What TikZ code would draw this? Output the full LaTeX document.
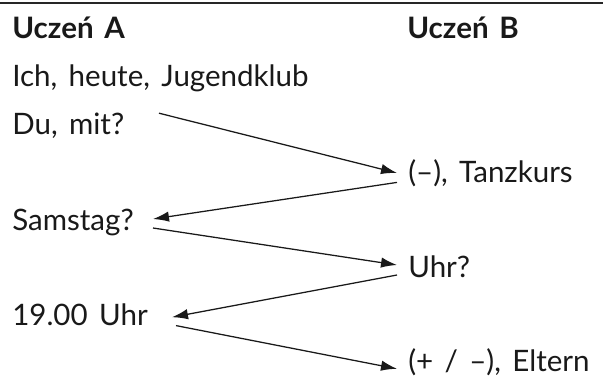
\documentclass[tikz,border=0pt]{standalone}
\usepackage{fontspec}
\setmainfont{Lato}[WordSpace=1.5]
\usetikzlibrary{arrows.meta, positioning}

\begin{document}
\begin{tikzpicture}[
    txt/.style={anchor=base west, inner sep=0pt, text=black!90, font=\fontsize{21}{25}\selectfont},
    head/.style={anchor=base west, inner sep=0pt, text=black!90, font=\fontsize{21}{25}\selectfont\bfseries},
    arr/.style={-{Latex[length=4mm, width=2.6mm]}, line width=0.9pt, black!90}
]
    \useasboundingbox (0,0) rectangle (15.075,-9.5);
    \draw[line width=1pt, black!85] (0,-0.075) -- (15.075,-0.075);

    \node[head] (uczen_a) at (0.3,-0.975) {Uczeń A};
    \node[head] (uczen_b) at (10.175,-0.975) {Uczeń B};

    % Uczeń A
    \node[txt] (jugendklub) at (0.3,-2.175) {Ich, heute, Jugendklub};
    \node[txt] (du_mit) at (0.3,-3.37) {Du, mit?};
    \node[txt] (samstag) at (0.3,-5.75) {Samstag?};
    \node[txt] (neunzehn) at (0.3,-8.14) {19.00 Uhr};

    % Uczeń B
    \node[txt] (tanzkurs) at (10.2,-4.56) {(–), Tanzkurs};
    \node[txt] (uhr) at (10.2,-6.945) {Uhr?};
    \node[txt] (eltern) at (10.2,-9.28) {(+ / –), Eltern};

    \draw[arr] ([shift={(3.675,0.54)}]du_mit.base west) -- ([shift={(-0.275,0.235)}]tanzkurs.base west);
    \draw[arr] ([shift={(-0.275,0)}]tanzkurs.base west) -- ([shift={(3.525,0.275)}]samstag.base west);
    \draw[arr] ([shift={(3.525,0.05)}]samstag.base west) -- ([shift={(-0.275,0.32)}]uhr.base west);
    \draw[arr] ([shift={(-0.275,0.07)}]uhr.base west) -- ([shift={(4.0,0.21)}]neunzehn.base west);
    \draw[arr] ([shift={(4.1,0)}]neunzehn.base west) -- ([shift={(-0.275,0.06)}]eltern.base west);
\end{tikzpicture}
\end{document}
